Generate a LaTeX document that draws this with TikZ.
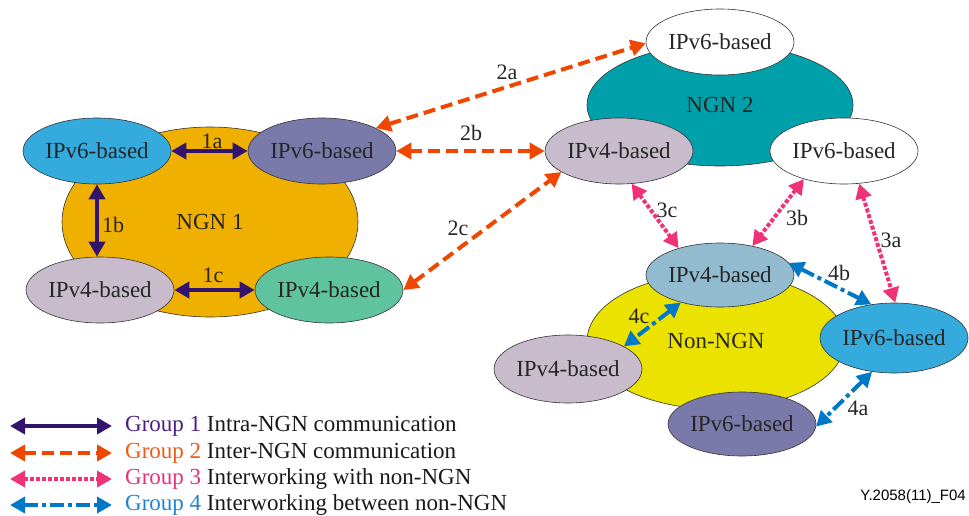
\documentclass[tikz,border=0pt]{standalone}
\usepackage{fontspec}
\setmainfont{Liberation Serif}
\newfontfamily\footfont{Liberation Sans}
\usetikzlibrary{shapes.geometric,arrows.meta}
\definecolor{cngnone}{RGB}{240,176,0}
\definecolor{cngntwo}{RGB}{0,160,170}
\definecolor{cnon}{RGB}{236,226,0}
\definecolor{cblue}{RGB}{53,170,220}
\definecolor{cpurple}{RGB}{122,122,170}
\definecolor{clav}{RGB}{200,188,204}
\definecolor{cgreen}{RGB}{95,195,160}
\definecolor{csteel}{RGB}{146,187,208}
\definecolor{gone}{RGB}{50,20,110}
\definecolor{gtwo}{RGB}{240,70,0}
\definecolor{gthree}{RGB}{240,50,120}
\definecolor{gfour}{RGB}{0,120,200}
\definecolor{tone}{RGB}{75,30,130}
\definecolor{ttwo}{RGB}{240,90,20}
\definecolor{tthree}{RGB}{232,48,122}
\definecolor{tfour}{RGB}{30,130,210}
\begin{document}
\begin{tikzpicture}[x=1pt,y=-1pt,
  big/.style={ellipse, draw=black!80, line width=0.6pt, inner sep=0pt, font=\fontsize{23}{27}\selectfont, text=black!85},
  nd/.style={ellipse, draw=black!80, line width=0.6pt, minimum width=148pt, minimum height=66pt, inner sep=0pt, font=\fontsize{23}{27}\selectfont, text=black!85},
  lbl/.style={font=\fontsize{22}{26}\selectfont, text=black!85, inner sep=1pt},
  legtxt/.style={anchor=west, font=\fontsize{23}{27}\selectfont, text=black!90, inner sep=0pt},
  tip/.style={{Triangle[length=15pt,width=16pt]}-{Triangle[length=15pt,width=16pt]}},
  gonearr/.style={tip, line width=4pt, color=gone},
  gtwoarr/.style={tip, line width=4pt, color=gtwo, dash pattern=on 12pt off 6pt},
  gthreearr/.style={tip, line width=4pt, color=gthree, dash pattern=on 4pt off 2pt},
  gfourarr/.style={tip, line width=4pt, color=gfour, dash pattern=on 14pt off 4pt on 4pt off 4pt}]
\useasboundingbox (0,0) rectangle (969,515);

% big network ellipses
\node[big, fill=cngnone, minimum width=296pt, minimum height=190pt] (ngn1) at (210,222) {NGN 1};
\node[big, fill=cngntwo, minimum width=266pt, minimum height=122pt] (ngn2) at (720,105) {NGN 2};
\node[big, fill=cnon, minimum width=258pt, minimum height=136pt] (non) at (716,341) {Non-NGN};

% NGN 1 nodes
\node[nd, fill=cblue] (atl) at (97,151) {IPv6-based};
\node[nd, fill=cpurple] (atr) at (322,151) {IPv6-based};
\node[nd, fill=clav] (abl) at (100,290) {IPv4-based};
\node[nd, fill=cgreen] (abr) at (329,290) {IPv4-based};

% NGN 2 nodes
\node[nd, fill=white] (btop) at (720,42) {IPv6-based};
\node[nd, fill=clav] (bl) at (619,151) {IPv4-based};
\node[nd, fill=white] (br) at (844,151) {IPv6-based};

% Non-NGN nodes
\node[nd, fill=csteel, minimum height=64pt] (ct) at (720,275) {IPv4-based};
\node[nd, fill=cblue, minimum height=70pt] (cr) at (894,338) {IPv6-based};
\node[nd, fill=clav, minimum height=68pt] (cl) at (568,369) {IPv4-based};
\node[nd, fill=cpurple, minimum height=64pt] (cb) at (742,424) {IPv6-based};

% Group 1
\draw[gonearr] (atl.east) -- (atr.west);
\draw[gonearr] (atl.south) -- (atl.south |- abl.north);
\draw[gonearr] (abl.east) -- (abr.west);
% Group 2
\draw[gtwoarr] (atr.23) -- (btop.181);
\draw[gtwoarr] (atr.east) -- (bl.west);
\draw[gtwoarr] (abr.east) -- (bl.200);
% Group 3
\draw[gthreearr] (bl.291) -- (ct.147);
\draw[gthreearr] (br.215) -- (ct.42);
\draw[gthreearr] (br.295) -- (cr.88);
% Group 4
\draw[gfourarr] (ct.10) -- (cr.124);
\draw[gfourarr] (ct.215) -- (cl.22);
\draw[gfourarr] (cr.237) -- (cb.358);

% labels
\node[lbl] (l1a) at (212,141) {1a};
\node[lbl] (l1b) at (113,225) {1b};
\node[lbl] (l1c) at (213,275) {1c};
\node[lbl] (l2a) at (507,72) {2a};
\node[lbl] (l2b) at (471,133) {2b};
\node[lbl] (l2c) at (458,228) {2c};
\node[lbl] (l3c) at (667,210) {3c};
\node[lbl] (l3b) at (797,218) {3b};
\node[lbl] (l3a) at (891,240) {3a};
\node[lbl] (l4b) at (839,273) {4b};
\node[lbl] (l4c) at (639,316) {4c};
\node[lbl] (l4a) at (858,408) {4a};

% legend
\coordinate (k1a) at (10,426); \coordinate (k1b) at (112,426);
\coordinate (k2a) at (10,453); \coordinate (k2b) at (112,453);
\coordinate (k3a) at (10,479); \coordinate (k3b) at (112,479);
\coordinate (k4a) at (10,505); \coordinate (k4b) at (112,505);
\draw[gonearr] (k1a) -- (k1b);
\draw[gtwoarr] (k2a) -- (k2b);
\draw[gthreearr] (k3a) -- (k3b);
\draw[gfourarr] (k4a) -- (k4b);
\node[legtxt] (t1) at (125,426) {\textcolor{tone}{Group 1} Intra-NGN communication};
\node[legtxt] (t2) at (125,453) {\textcolor{ttwo}{Group 2} Inter-NGN communication};
\node[legtxt] (t3) at (125,479) {\textcolor{tthree}{Group 3} Interworking with non-NGN};
\node[legtxt] (t4) at (125,505) {\textcolor{tfour}{Group 4} Interworking between non-NGN};

% footer
\node[anchor=east, font=\footfont\fontsize{15}{18}\selectfont, inner sep=0pt] (foot) at (966,497) {Y.2058(11)\_F04};
\end{tikzpicture}
\end{document}
